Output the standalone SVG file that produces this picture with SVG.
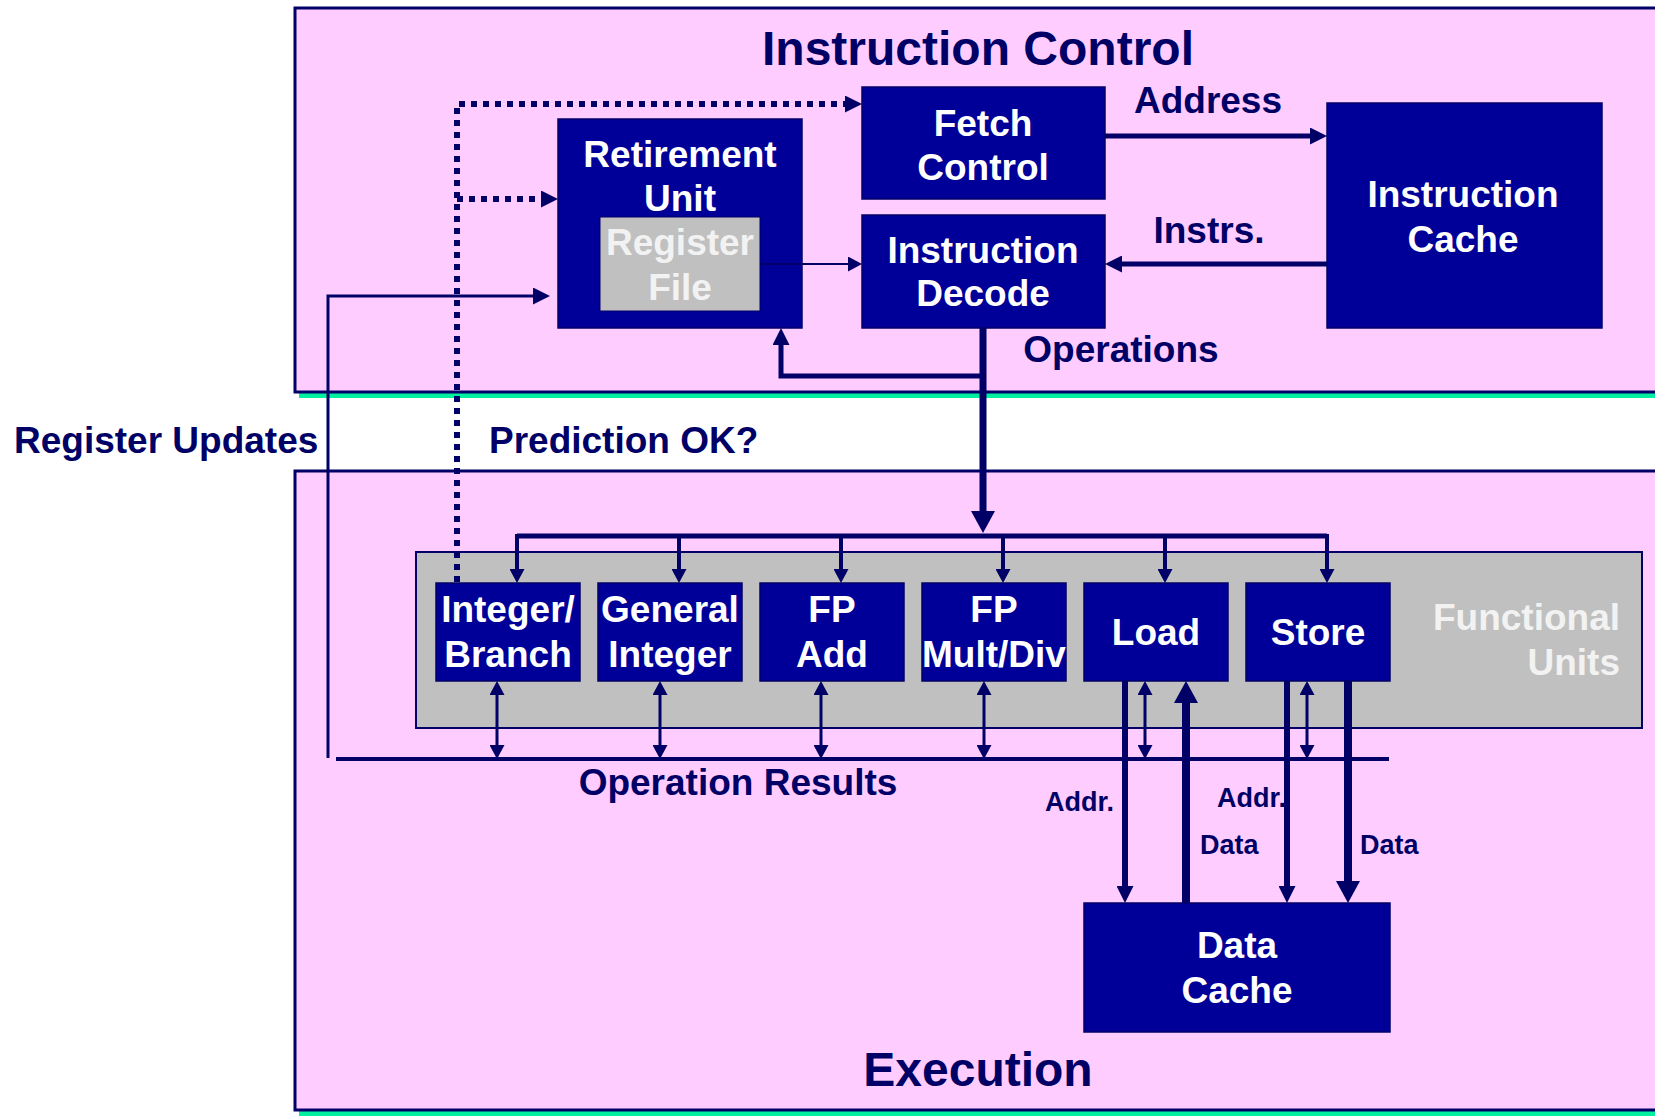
<svg xmlns="http://www.w3.org/2000/svg" width="1655" height="1117" viewBox="0 0 1655 1117">
<style>
text{font-family:"Liberation Sans",Arial,sans-serif;font-weight:bold;}
.t{fill:#000066;font-size:37px;}
.ti{fill:#000066;font-size:48px;text-anchor:middle;}
.n{fill:#ffffff;font-size:37px;text-anchor:middle;}
.g{fill:#f2f2f2;font-size:37px;}
.s{fill:#000066;font-size:27px;}
.box{fill:#000099;stroke:#000066;stroke-width:1.5;}
.ln{fill:none;stroke:#000066;}
.dot{fill:none;stroke:#000066;stroke-width:6;stroke-dasharray:6 6;}
</style>
<defs>
<marker id="a" markerUnits="userSpaceOnUse" markerWidth="17" markerHeight="17" refX="0" refY="8.5" orient="auto"><path d="M0,0 L17,8.5 L0,17 Z" fill="#000066"/></marker>
<marker id="b" markerUnits="userSpaceOnUse" markerWidth="22" markerHeight="24" refX="0" refY="12" orient="auto"><path d="M0,0 L22,12 L0,24 Z" fill="#000066"/></marker>
<marker id="t" markerUnits="userSpaceOnUse" markerWidth="14" markerHeight="15" refX="0" refY="7.5" orient="auto-start-reverse"><path d="M0,0 L14,7.5 L0,15 Z" fill="#000066"/></marker>
</defs>
<rect width="1655" height="1117" fill="#ffffff"/>
<g id="instruction-control">
<rect x="299" y="393" width="1360" height="5" fill="#00f0a0"/>
<rect x="295" y="8" width="1370" height="384" fill="#ffccff" stroke="#000066" stroke-width="3"/>
<text class="ti" x="978" y="65">Instruction Control</text>
</g>
<g id="execution">
<rect x="299" y="1111" width="1360" height="5" fill="#00f0a0"/>
<rect x="295" y="471" width="1370" height="639" fill="#ffccff" stroke="#000066" stroke-width="3"/>
<text class="ti" x="978" y="1086">Execution</text>
</g>
<g id="functional-units">
<rect x="416" y="552" width="1226" height="176" fill="#c0c0c0" stroke="#000066" stroke-width="2"/>
<text class="g" x="1620" y="630" text-anchor="end">Functional</text>
<text class="g" x="1620" y="675" text-anchor="end">Units</text>
</g>
<g id="fetch-control">
<rect class="box" x="862" y="87" width="243" height="112"/>
<text class="n" x="983" y="136">Fetch</text>
<text class="n" x="983" y="180">Control</text>
</g>
<g id="instruction-decode">
<rect class="box" x="862" y="215" width="243" height="113"/>
<text class="n" x="983" y="263">Instruction</text>
<text class="n" x="983" y="306">Decode</text>
</g>
<g id="retirement-unit">
<rect class="box" x="558" y="119" width="244" height="209"/>
<text class="n" x="680" y="167">Retirement</text>
<text class="n" x="680" y="211">Unit</text>
</g>
<g id="register-file">
<rect x="600" y="217" width="160" height="94" fill="#c0c0c0" stroke="#000066" stroke-width="1"/>
<text class="n" x="680" y="255" style="fill:#f2f2f2">Register</text>
<text class="n" x="680" y="300" style="fill:#f2f2f2">File</text>
</g>
<g id="instruction-cache">
<rect class="box" x="1327" y="103" width="275" height="225"/>
<text class="n" x="1463" y="207">Instruction</text>
<text class="n" x="1463" y="252">Cache</text>
</g>
<g id="integer-branch">
<rect class="box" x="436" y="583" width="144" height="98"/>
<text class="n" x="508" y="622">Integer/</text>
<text class="n" x="508" y="667">Branch</text>
</g>
<g id="general-integer">
<rect class="box" x="598" y="583" width="144" height="98"/>
<text class="n" x="670" y="622">General</text>
<text class="n" x="670" y="667">Integer</text>
</g>
<g id="fp-add">
<rect class="box" x="760" y="583" width="144" height="98"/>
<text class="n" x="832" y="622">FP</text>
<text class="n" x="832" y="667">Add</text>
</g>
<g id="fp-mult-div">
<rect class="box" x="922" y="583" width="144" height="98"/>
<text class="n" x="994" y="622">FP</text>
<text class="n" x="994" y="667">Mult/Div</text>
</g>
<g id="load">
<rect class="box" x="1084" y="583" width="144" height="98"/>
<text class="n" x="1156" y="645">Load</text>
</g>
<g id="store">
<rect class="box" x="1246" y="583" width="144" height="98"/>
<text class="n" x="1318" y="645">Store</text>
</g>
<g id="data-cache">
<rect class="box" x="1084" y="903" width="306" height="129"/>
<text class="n" x="1237" y="958">Data</text>
<text class="n" x="1237" y="1003">Cache</text>
</g>
<g id="connectors">
<path class="dot" d="M457,582 V104 H845" marker-end="url(#a)"/>
<path class="dot" d="M457,199 H541" marker-end="url(#a)"/>
<path class="ln" d="M328,758 V296 H533" stroke-width="3" marker-end="url(#a)"/>
<path class="ln" d="M336,759 H1389" stroke-width="4"/>
<path class="ln" d="M760,264 H848" stroke-width="2" marker-end="url(#t)"/>
<path class="ln" d="M1105,136 H1310" stroke-width="5" marker-end="url(#a)"/>
<path class="ln" d="M1327,264 H1122" stroke-width="5" marker-end="url(#a)"/>
<path class="ln" d="M983,328 V511" stroke-width="7" marker-end="url(#b)"/>
<path class="ln" d="M983,376 H781 V345" stroke-width="5" marker-end="url(#a)"/>
<path class="ln" d="M517,536 H1327" stroke-width="5"/>
<path class="ln" d="M517,534 V569" stroke-width="4" marker-end="url(#t)"/>
<path class="ln" d="M679,534 V569" stroke-width="4" marker-end="url(#t)"/>
<path class="ln" d="M841,534 V569" stroke-width="4" marker-end="url(#t)"/>
<path class="ln" d="M1003,534 V569" stroke-width="4" marker-end="url(#t)"/>
<path class="ln" d="M1165,534 V569" stroke-width="4" marker-end="url(#t)"/>
<path class="ln" d="M1327,534 V569" stroke-width="4" marker-end="url(#t)"/>
<path class="ln" d="M497,695 V745" stroke-width="3" marker-start="url(#t)" marker-end="url(#t)"/>
<path class="ln" d="M660,695 V745" stroke-width="3" marker-start="url(#t)" marker-end="url(#t)"/>
<path class="ln" d="M821,695 V745" stroke-width="3" marker-start="url(#t)" marker-end="url(#t)"/>
<path class="ln" d="M984,695 V745" stroke-width="3" marker-start="url(#t)" marker-end="url(#t)"/>
<path class="ln" d="M1145,695 V745" stroke-width="3" marker-start="url(#t)" marker-end="url(#t)"/>
<path class="ln" d="M1307,695 V745" stroke-width="3" marker-start="url(#t)" marker-end="url(#t)"/>
<path class="ln" d="M1125,681 V886" stroke-width="6" marker-end="url(#a)"/>
<path class="ln" d="M1186,903 V703" stroke-width="8" marker-end="url(#b)"/>
<path class="ln" d="M1287,681 V886" stroke-width="6" marker-end="url(#a)"/>
<path class="ln" d="M1348,681 V881" stroke-width="8" marker-end="url(#b)"/>
</g>
<g id="labels">
<text class="t" x="1208" y="113" text-anchor="middle">Address</text>
<text class="t" x="1209" y="243" text-anchor="middle">Instrs.</text>
<text class="t" x="1121" y="362" text-anchor="middle">Operations</text>
<text class="t" x="14" y="453">Register Updates</text>
<text class="t" x="489" y="453">Prediction OK?</text>
<text class="t" x="738" y="795" text-anchor="middle">Operation Results</text>
<text class="s" x="1114" y="811" text-anchor="end">Addr.</text>
<text class="s" x="1200" y="854">Data</text>
<text class="s" x="1217" y="807">Addr.</text>
<text class="s" x="1360" y="854">Data</text>
</g>
</svg>
